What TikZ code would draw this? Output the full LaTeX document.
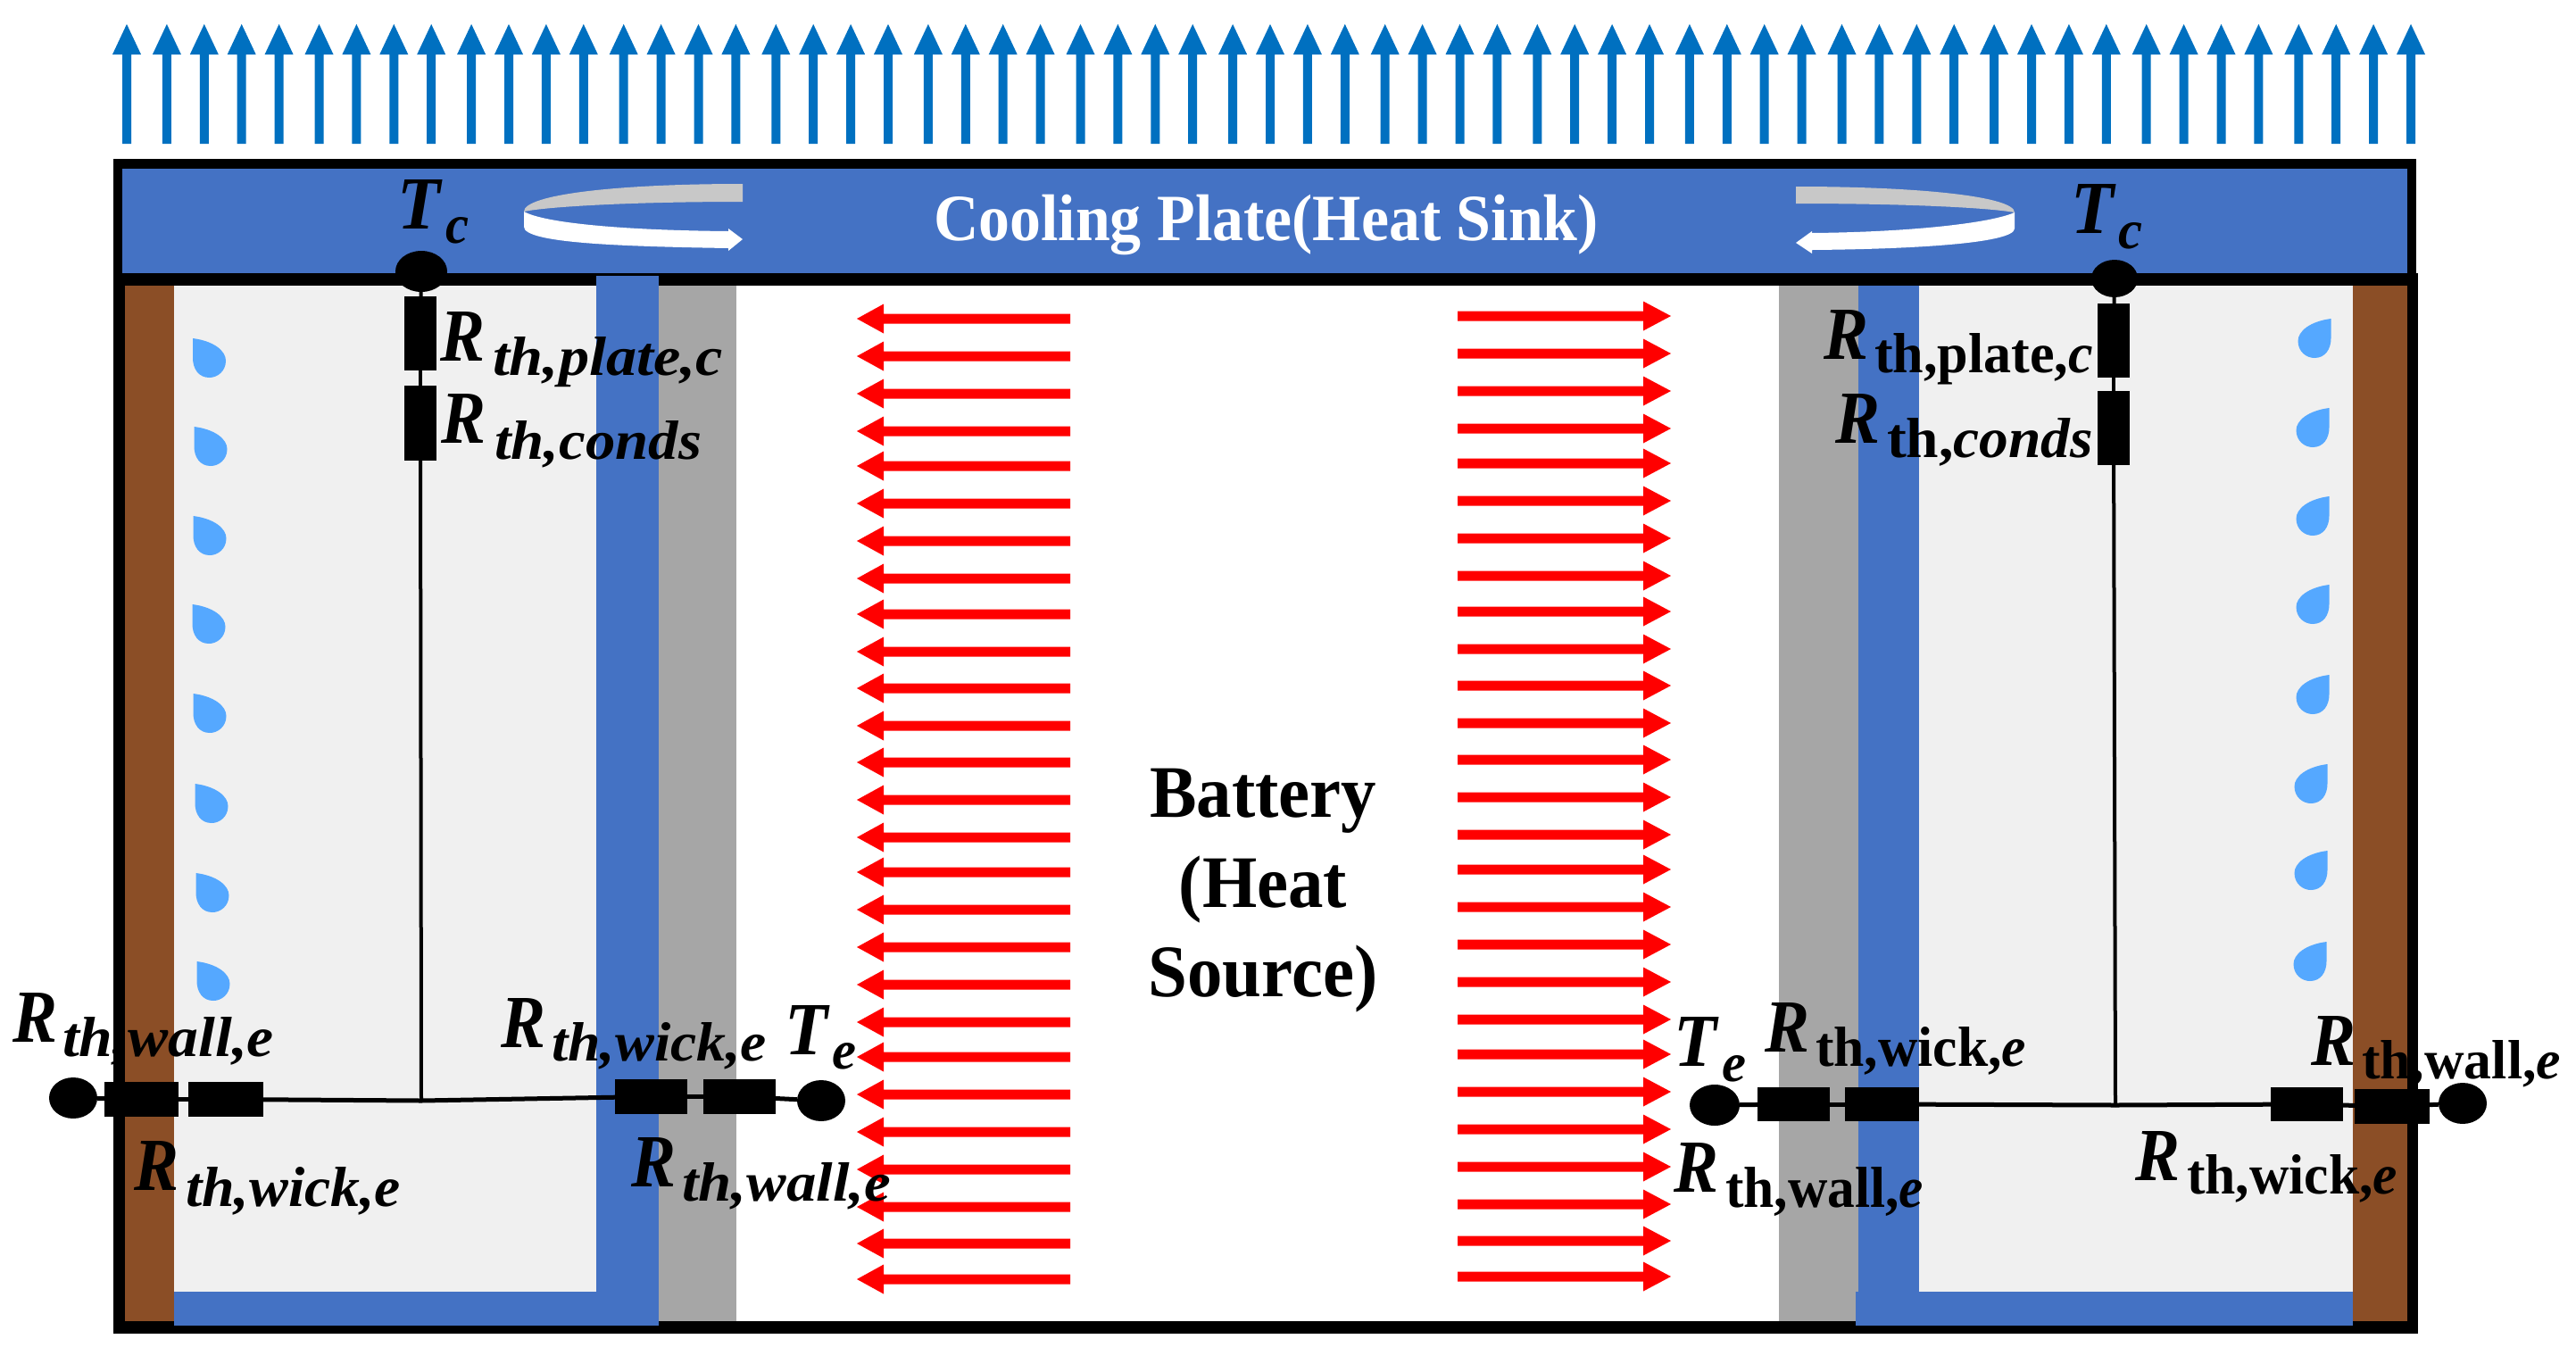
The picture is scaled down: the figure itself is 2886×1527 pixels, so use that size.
\documentclass[tikz,border=0pt]{standalone}
\usepackage{fontspec}
\usepackage{graphicx}
\setmainfont{Liberation Serif}
\usetikzlibrary{shapes.geometric}
\definecolor{plateblue}{HTML}{4472C4}
\definecolor{wallbrown}{HTML}{8B4E26}
\definecolor{vapor}{HTML}{F0F0F0}
\definecolor{wallgray}{HTML}{A6A6A6}
\definecolor{flowblue}{HTML}{0070C0}
\definecolor{dropblue}{HTML}{55A8FF}
\definecolor{swirlgray}{HTML}{C8C8C8}
\tikzset{
  lab/.style={anchor=base west,inner sep=0pt,outer sep=0pt,text=black,font=\fontsize{60}{60}\selectfont\bfseries\itshape},
  plain/.style={inner sep=0pt,outer sep=0pt},
  tempdot/.style={ellipse,fill=black,inner sep=0pt,outer sep=0pt},
  resist/.style={rectangle,fill=black,inner sep=0pt,outer sep=0pt},
  wire/.style={draw=black,line width=5pt},
  thinwire/.style={draw=black,line width=4pt}
}
\newcommand\Rlab[8]{\node[lab] (#1) at (#2-3,#3) {\makebox[\dimexpr#4pt+3pt\relax][l]{\resizebox{50pt}{55pt}{R}}\raisebox{-#5pt}{\resizebox{#6pt}{#7pt}{#8}}};}
\newcommand\Tlab[8]{\node[lab] (#1) at (#2-5,#3) {\makebox[\dimexpr#4pt+5pt\relax][l]{\resizebox{48pt}{55pt}{T}}\raisebox{-#5pt}{\resizebox{#6pt}{#7pt}{#8}}};}
\newcommand\upt[2]{{\upshape #1\itshape #2}}
\newcommand\dropL[2]{\fill[dropblue] (#1-18.5,#2-22) .. controls (#1+5,#2-19) and (#1+18.5,#2-8) .. (#1+18.5,#2+3) .. controls (#1+18.5,#2+15) and (#1+9,#2+22) .. (#1,#2+22) .. controls (#1-12,#2+22) and (#1-18.5,#2+12) .. (#1-18.5,#2) -- cycle;}
\newcommand\dropR[2]{\fill[dropblue] (#1+18.5,#2-22) .. controls (#1-5,#2-19) and (#1-18.5,#2-8) .. (#1-18.5,#2+3) .. controls (#1-18.5,#2+15) and (#1-9,#2+22) .. (#1,#2+22) .. controls (#1+12,#2+22) and (#1+18.5,#2+12) .. (#1+18.5,#2) -- cycle;}
\begin{document}
\begin{tikzpicture}[x=1pt,y=-1pt]
\useasboundingbox (0,0) rectangle (2886,1527);
% heat-rejection arrows
\foreach \i in {0,...,60}{
  \pgfmathsetmacro\ax{142+41.9*\i+3*ceil(\i/4)}
  \fill[flowblue] (\ax-5,161) -- (\ax-5,61) -- (\ax-16,61) -- (\ax,27) -- (\ax+16,61) -- (\ax+5,61) -- (\ax+5,161) -- cycle;
}
% frames
\fill[black] (127,178) rectangle (2707,320);
\fill[black] (127,306) rectangle (2709,1494);
\fill[plateblue] (137,189) rectangle (2697,306);
\fill[white] (825,320) rectangle (1993,1480);
% left heat pipe
\fill[wallbrown] (140,320) rectangle (195,1480);
\fill[vapor] (195,320) rectangle (668,1447);
\fill[wallgray] (738,320) rectangle (825,1480);
\fill[plateblue] (668,309) rectangle (738,1485);
\fill[plateblue] (195,1447) rectangle (738,1485);
% right heat pipe
\fill[wallgray] (1993,320) rectangle (2082,1480);
\fill[vapor] (2150,320) rectangle (2636,1447);
\fill[wallbrown] (2636,320) rectangle (2697,1480);
\fill[plateblue] (2082,320) rectangle (2150,1485);
\fill[plateblue] (2079,1447) rectangle (2636,1485);
% droplets
\dropL{234.5}{401}\dropL{236}{500}\dropL{235}{600}\dropL{234}{699}\dropL{235}{799}\dropL{237}{900}\dropL{238}{1000}\dropL{239}{1099}
\dropR{2593}{379}\dropR{2591}{479}\dropR{2591}{578}\dropR{2591}{677}\dropR{2591}{778}\dropR{2589}{878}\dropR{2589}{975}\dropR{2588}{1077}
% heat-flow arrows
\foreach \y in {357,399,441,483,522,564,606,648,688,730,771,813,854,896,938,977,1019,1061,1103,1145,1184,1226,1268,1310,1352,1393,1433}{
  \fill[red] (1199,\y-5.5) -- (990,\y-5.5) -- (990,\y-16.5) -- (960,\y) -- (990,\y+16.5) -- (990,\y+5.5) -- (1199,\y+5.5) -- cycle;
  \fill[red] (1633,\y-8.5) -- (1841,\y-8.5) -- (1841,\y-19.5) -- (1872,\y-3) -- (1841,\y+13.5) -- (1841,\y+2.5) -- (1633,\y+2.5) -- cycle;
}
% swirl arrows
\fill[swirlgray] (832,206) .. controls (690,206) and (587,218) .. (587,237) .. controls (610,232) and (700,226) .. (832,226) -- cycle;
\fill[white] (587,237) .. controls (610,250) and (700,258) .. (816,259) -- (816,256) -- (832,268) -- (816,281) -- (816,278) .. controls (690,276) and (587,272) .. (587,254) -- cycle;
\fill[swirlgray] (2012,209) .. controls (2150,209) and (2257,220) .. (2257,238) .. controls (2230,233) and (2140,228) .. (2012,228) -- cycle;
\fill[white] (2257,238) .. controls (2230,250) and (2140,260) .. (2030,261) -- (2030,259) -- (2012,272) -- (2030,284) -- (2030,280) .. controls (2150,279) and (2257,272) .. (2257,256) -- cycle;
% thermal network, left
\node[tempdot,minimum width=58pt,minimum height=46pt] (tcl) at (472,304) {};
\node[resist,minimum width=36pt,minimum height=83pt] (rpl) at (471,373.5) {};
\node[resist,minimum width=36pt,minimum height=84pt] (rcl) at (471,474) {};
\coordinate (jl) at (472,1233);
\node[tempdot,minimum width=54pt,minimum height=46pt] (wl) at (82,1230) {};
\node[resist,minimum width=83pt,minimum height=39pt] (rwl1) at (158.5,1231.5) {};
\node[resist,minimum width=84pt,minimum height=39pt] (rkl1) at (253,1231.5) {};
\node[resist,minimum width=81pt,minimum height=39pt] (rkl2) at (729.5,1228.5) {};
\node[resist,minimum width=81pt,minimum height=39pt] (rwl2) at (828.5,1228.5) {};
\node[tempdot,minimum width=54pt,minimum height=46pt] (el) at (920,1233) {};
\draw[thinwire] (tcl) -- (rpl);
\draw[thinwire] (rpl) -- (rcl);
\draw[thinwire] (rcl) -- (jl);
\draw[wire] (wl) -- (rwl1);
\draw[wire] (rwl1) -- (rkl1);
\draw[wire] (rkl1) -- (jl);
\draw[wire] (jl) -- (rkl2);
\draw[wire] (rkl2) -- (rwl2);
\draw[wire] (rwl2) -- (el);
% thermal network, right
\node[tempdot,minimum width=52pt,minimum height=42pt] (tcr) at (2369,312) {};
\node[resist,minimum width=36pt,minimum height=83pt] (rpr) at (2368,381.5) {};
\node[resist,minimum width=36pt,minimum height=83pt] (rcr) at (2368,479.5) {};
\coordinate (jr) at (2370,1238);
\node[tempdot,minimum width=56pt,minimum height=46pt] (er) at (1921,1238) {};
\node[resist,minimum width=81pt,minimum height=38pt] (rwr1) at (2009.5,1237) {};
\node[resist,minimum width=83pt,minimum height=38pt] (rkr1) at (2108.5,1237) {};
\node[resist,minimum width=81pt,minimum height=38pt] (rkr2) at (2584.5,1237) {};
\node[resist,minimum width=84pt,minimum height=39pt] (rwr2) at (2680,1239.5) {};
\node[tempdot,minimum width=54pt,minimum height=46pt] (wr) at (2759,1236) {};
\draw[thinwire] (tcr) -- (rpr);
\draw[thinwire] (rpr) -- (rcr);
\draw[thinwire] (rcr) -- (jr);
\draw[wire] (er) -- (rwr1);
\draw[wire] (rwr1) -- (rkr1);
\draw[wire] (rkr1) -- (jr);
\draw[wire] (jr) -- (rkr2);
\draw[wire] (rkr2) -- (rwr2);
\draw[wire] (rwr2) -- (wr);
% labels, left
\Tlab{ltc}{450}{256}{49}{16}{26}{29}{c}
\Tlab{lte}{884}{1181}{48}{16}{27}{29}{e}
\Rlab{la1}{496}{404}{56}{16}{258}{43}{th,plate,c}
\Rlab{la2}{497}{496}{57}{18}{232}{43}{th,conds}
\Rlab{la3}{17}{1167}{53}{16}{237}{44}{th,wall,e}
\Rlab{la4}{153}{1333}{55}{18}{241}{44}{th,wick,e}
\Rlab{la5}{564}{1173}{54}{15}{241}{43}{th,wick,e}
\Rlab{la6}{710}{1329}{54}{16}{234}{43}{th,wall,e}
% labels, right
\Tlab{rtc}{2325}{261}{48}{17}{27}{29}{c}
\Tlab{rte}{1880}{1194}{49}{17}{27}{29}{e}
\Rlab{rb1}{2046}{402}{54}{15}{245}{44}{\upt{th,plate,}{c}}
\Rlab{rb2}{2059}{496}{55}{16}{231}{44}{\upt{th,}{conds}}
\Rlab{rb3}{1980}{1178}{54}{16}{236}{44}{\upt{th,wick,}{e}}
\Rlab{rb4}{2592}{1193}{54}{15}{223}{43}{\upt{th,wall,}{e}}
\Rlab{rb5}{1878}{1335}{55}{17}{222}{45}{\upt{th,wall,}{e}}
\Rlab{rb6}{2395}{1322}{55}{15}{236}{44}{\upt{th,wick,}{e}}
% titles
\node[plain,anchor=base,text=white,font=\fontsize{74}{74}\selectfont\bfseries] (plate) at (1418.5,269) {\resizebox{745pt}{\height}{Cooling Plate(Heat Sink)}};
\node[plain,anchor=center,text=black,font=\fontsize{83}{100.5}\selectfont\bfseries,align=center] (batt) at (1415,998) {\scalebox{.95}[1]{Battery}\\\scalebox{.95}[1]{(Heat}\\\scalebox{.95}[1]{Source)}};
\end{tikzpicture}
\end{document}
